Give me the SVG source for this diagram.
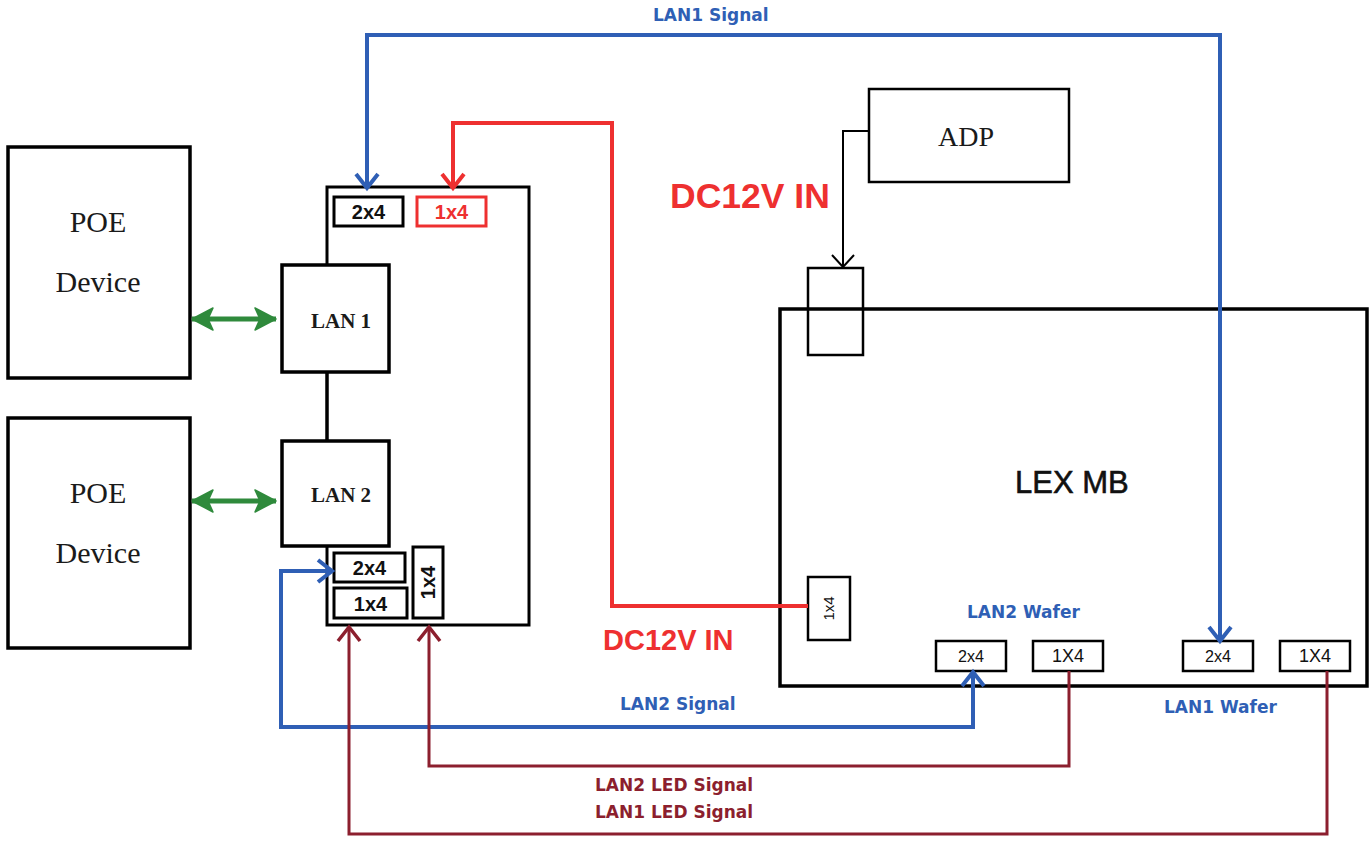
<svg xmlns="http://www.w3.org/2000/svg" width="1372" height="841" viewBox="0 0 1372 841">
<style>
.box{fill:#fff;stroke:#000;stroke-width:3.5}
.thin{fill:#fff;stroke:#000;stroke-width:2.5}
.serif{font-family:"Liberation Serif","Times New Roman",serif;fill:#1a1a1a}
.sans{font-family:"Liberation Sans",Arial,sans-serif;fill:#111}
.lbl{font-family:"DejaVu Sans",Verdana,sans-serif;font-weight:bold;font-size:17px}
.blue{stroke:#2f5fb5;fill:none;stroke-width:4}
.red{stroke:#ee3030;fill:none;stroke-width:4}
.dred{stroke:#8c1f2e;fill:none;stroke-width:3}
.green{stroke:#2f8a3c;fill:none;stroke-width:5}
</style>
<defs>
<marker id="ab" markerUnits="userSpaceOnUse" markerWidth="26" markerHeight="26" viewBox="0 0 26 26" refX="22" refY="13" orient="auto-start-reverse"><path d="M8,2 L22,13 L8,24" fill="none" stroke="#2f5fb5" stroke-width="4"/></marker>
<marker id="ar" markerUnits="userSpaceOnUse" markerWidth="26" markerHeight="26" viewBox="0 0 26 26" refX="22" refY="13" orient="auto-start-reverse"><path d="M8,2 L22,13 L8,24" fill="none" stroke="#ee3030" stroke-width="4"/></marker>
<marker id="ad" markerUnits="userSpaceOnUse" markerWidth="26" markerHeight="26" viewBox="0 0 26 26" refX="22" refY="13" orient="auto-start-reverse"><path d="M8,2 L22,13 L8,24" fill="none" stroke="#8c1f2e" stroke-width="3.5"/></marker>
<marker id="ak" markerUnits="userSpaceOnUse" markerWidth="26" markerHeight="26" viewBox="0 0 26 26" refX="22" refY="13" orient="auto-start-reverse"><path d="M10,2 L22,13 L10,24" fill="none" stroke="#000" stroke-width="2"/></marker>
<marker id="ag" markerUnits="userSpaceOnUse" markerWidth="26" markerHeight="26" viewBox="0 0 26 26" refX="24" refY="13" orient="auto-start-reverse"><path d="M3,2 L24,13 L3,24 L8,13 Z" fill="#2f8a3c" stroke="#2f8a3c" stroke-width="1.5" stroke-linejoin="round"/></marker>
</defs>

<g id="poe1">
<rect class="box" x="8" y="147" width="182" height="231"/>
<text class="serif" x="98" y="232" font-size="30" text-anchor="middle">POE</text>
<text class="serif" x="98" y="292" font-size="30" text-anchor="middle">Device</text>
</g>
<g id="poe2">
<rect class="box" x="8" y="418" width="182" height="230"/>
<text class="serif" x="98" y="503" font-size="30" text-anchor="middle">POE</text>
<text class="serif" x="98" y="563" font-size="30" text-anchor="middle">Device</text>
</g>

<g id="board">
<rect x="327" y="187" width="202" height="438" fill="#fff" stroke="#000" stroke-width="3"/>
<rect x="334" y="197" width="69" height="29" fill="#fff" stroke="#000" stroke-width="3"/>
<text class="sans" x="368.5" y="219" font-size="20" font-weight="bold" text-anchor="middle">2x4</text>
<rect x="417" y="197" width="69" height="29" fill="#fff" stroke="#ee3030" stroke-width="3"/>
<text class="sans" x="451.5" y="219" font-size="20" font-weight="bold" text-anchor="middle" style="fill:#ee3030">1x4</text>
<rect x="334" y="553" width="71" height="29" fill="#fff" stroke="#000" stroke-width="3"/>
<text class="sans" x="369.5" y="575" font-size="20" font-weight="bold" text-anchor="middle">2x4</text>
<rect x="334" y="588" width="73" height="30" fill="#fff" stroke="#000" stroke-width="3"/>
<text class="sans" x="370.5" y="611" font-size="20" font-weight="bold" text-anchor="middle">1x4</text>
<rect x="413" y="547" width="30" height="71" fill="#fff" stroke="#000" stroke-width="3"/>
<text class="sans" x="0" y="0" font-size="20" font-weight="bold" text-anchor="middle" transform="translate(435,582.5) rotate(-90)">1x4</text>
</g>

<g id="lan1">
<rect class="box" x="282" y="265" width="107" height="107" stroke-width="3"/>
<text class="serif" x="341" y="328" font-size="21" font-weight="bold" text-anchor="middle">LAN 1</text>
</g>
<g id="lan2">
<rect class="box" x="282" y="441" width="107" height="105" stroke-width="3"/>
<text class="serif" x="341" y="502" font-size="21" font-weight="bold" text-anchor="middle">LAN 2</text>
</g>
<line x1="327" y1="372" x2="327" y2="441" stroke="#000" stroke-width="3"/>

<g id="adp">
<rect class="thin" x="869" y="89" width="200" height="93"/>
<text class="serif" x="966" y="146" font-size="28" text-anchor="middle">ADP</text>
</g>

<g id="lexmb">
<rect x="780" y="309" width="587" height="377" fill="#fff" stroke="#000" stroke-width="3.5"/>
<rect x="808" y="268" width="55" height="87" fill="none" stroke="#000" stroke-width="2.5"/>
<text class="sans" x="1015" y="493" font-size="31" style="stroke:#111;stroke-width:0.6">LEX MB</text>
<rect x="808" y="577" width="42" height="63" fill="#fff" stroke="#000" stroke-width="2.5"/>
<text class="sans" x="0" y="0" font-size="15" text-anchor="middle" transform="translate(834,608.5) rotate(-90)">1x4</text>
<rect x="936" y="641" width="70" height="30" fill="#fff" stroke="#000" stroke-width="2.5"/>
<text class="sans" x="971" y="662" font-size="17" text-anchor="middle" textLength="26" lengthAdjust="spacingAndGlyphs">2x4</text>
<rect x="1033" y="641" width="70" height="30" fill="#fff" stroke="#000" stroke-width="2.5"/>
<text class="sans" x="1068" y="662" font-size="18" text-anchor="middle">1X4</text>
<rect x="1183" y="641" width="70" height="30" fill="#fff" stroke="#000" stroke-width="2.5"/>
<text class="sans" x="1218" y="662" font-size="17" text-anchor="middle" textLength="26" lengthAdjust="spacingAndGlyphs">2x4</text>
<rect x="1280" y="641" width="70" height="30" fill="#fff" stroke="#000" stroke-width="2.5"/>
<text class="sans" x="1315" y="662" font-size="18" text-anchor="middle">1X4</text>
</g>

<g id="connectors">
<path class="green" d="M192,319 H276" marker-start="url(#ag)" marker-end="url(#ag)"/>
<path class="green" d="M192,501 H276" marker-start="url(#ag)" marker-end="url(#ag)"/>
<path d="M869,131 H843 V267" fill="none" stroke="#000" stroke-width="2" marker-end="url(#ak)"/>
<path class="blue" d="M367,188 V35 H1220 V641" marker-start="url(#ab)" marker-end="url(#ab)"/>
<path class="red" d="M453,188 V123 H612 V606 H808" marker-start="url(#ar)"/>
<path class="blue" d="M973,672 V727 H281 V571 H332" marker-start="url(#ab)" marker-end="url(#ab)"/>
<path class="dred" d="M1069,671 V766 H429 V627" marker-end="url(#ad)"/>
<path class="dred" d="M1327,671 V834 H349 V627" marker-end="url(#ad)"/>
</g>

<g id="labels">
<text class="lbl" x="653" y="21" fill="#2f5fb5">LAN1 Signal</text>
<text class="lbl" x="620" y="710" fill="#2f5fb5">LAN2 Signal</text>
<text class="lbl" x="967" y="618" fill="#2f5fb5">LAN2 Wafer</text>
<text class="lbl" x="1164" y="713" fill="#2f5fb5">LAN1 Wafer</text>
<text class="lbl" x="595" y="791" fill="#8c1f2e">LAN2 LED Signal</text>
<text class="lbl" x="595" y="818" fill="#8c1f2e">LAN1 LED Signal</text>
<text class="sans" x="670" y="208" font-size="35.5" font-weight="bold" style="fill:#ee3030">DC12V IN</text>
<text class="sans" x="603" y="650" font-size="29" font-weight="bold" style="fill:#ee3030">DC12V IN</text>
</g>
</svg>
